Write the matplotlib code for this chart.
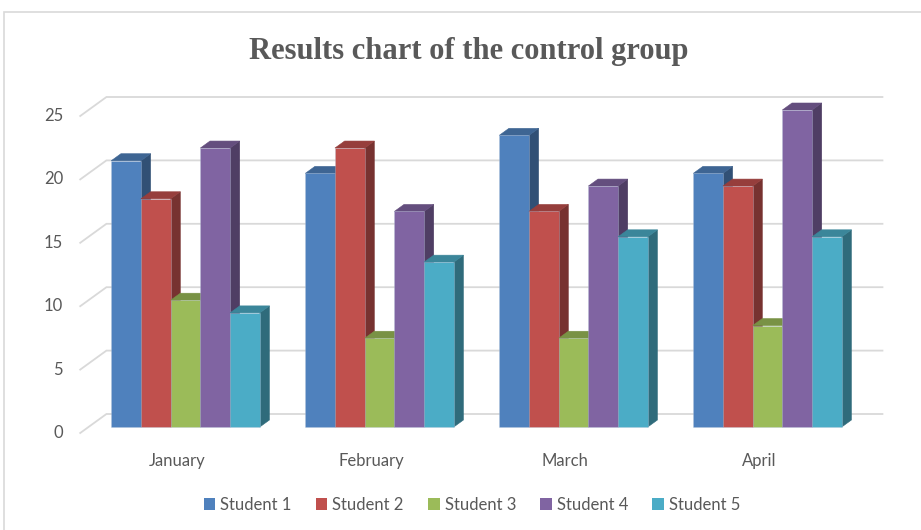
import matplotlib
matplotlib.use("Agg")
import matplotlib.pyplot as plt
from matplotlib.patches import Polygon, Rectangle, Patch
import numpy as np

# ---------------- data ----------------
months = ["January", "February", "March", "April"]
series_names = ["Student 1", "Student 2", "Student 3", "Student 4", "Student 5"]
student1 = [21, 20, 23, 20]
student2 = [18, 22, 17, 19]
student3 = [10, 7, 7, 8]
student4 = [22, 17, 19, 25]
student5 = [9, 13, 15, 15]
yticks = [0, 5, 10, 15, 20, 25]

series = [student1, student2, student3, student4, student5]
colors = ["#4F81BD", "#C0504D", "#9BBB59", "#8064A2", "#4BACC6"]

# ---------------- geometry (pixel based layout) ----------------
W, H = 921, 530
PX_CAT = 194.0      # pixels per category
PX_VAL = 12.68      # pixels per value unit
X0 = 185.5          # pixel x of first category centre
Y0 = 427.0          # pixel y of value 0 (bar front plane)
KX = 1.38 / PX_CAT  # x shift per depth pixel (data units)
KV = 1.0 / PX_VAL   # y shift per depth pixel (data units)
BAR_W = 29.7 / PX_CAT
BAR_D = 7.0
WALL_BACK = 13.0
WALL_FRONT = -6.0


def proj(x, v, d):
    return (x + d * KX, v + d * KV)


def shade(c, f):
    r, g, b = matplotlib.colors.to_rgb(c)
    return (r * f, g * f, b * f)


fig = plt.figure(figsize=(W / 100, H / 100), dpi=100)
ax = fig.add_axes([0, 0, 1, 1])
ax.set_xlim(-X0 / PX_CAT, (W - X0) / PX_CAT)
ax.set_ylim((Y0 - H) / PX_VAL, Y0 / PX_VAL)
ax.axis("off")

# chart border
fig.patches.append(Rectangle((4 / W, -0.1), 1.2, 1 - 12 / H + 0.1,
                             transform=fig.transFigure, fill=False,
                             edgecolor="#d9d9d9", linewidth=1.2))

# gridlines: left side wall + back wall
xl, xr = -0.5, len(months) - 0.5
for v in yticks:
    p1 = proj(xl, v, WALL_FRONT)
    p2 = proj(xl, v, WALL_BACK)
    p3 = proj(xr, v, WALL_BACK)
    ax.plot([p1[0], p2[0], p3[0]], [p1[1], p2[1], p3[1]],
            color="#d9d9d9", linewidth=1.3, zorder=1, solid_joinstyle="miter")
    # tick label
    ax.text(p1[0] - 17 / PX_CAT, p1[1], str(v), ha="right", va="center",
            fontsize=12, color="#595959", family="Lato")

# bars
z = 2
for i in range(len(months)):
    for j, vals in enumerate(series):
        h = vals[i]
        x1 = i - 2.5 * BAR_W + j * BAR_W
        x2 = x1 + BAR_W
        c = colors[j]
        side = [proj(x2, 0, 0), proj(x2, 0, BAR_D), proj(x2, h, BAR_D), proj(x2, h, 0)]
        top = [proj(x1, h, 0), proj(x2, h, 0), proj(x2, h, BAR_D), proj(x1, h, BAR_D)]
        ax.add_patch(Polygon(side, closed=True, facecolor=shade(c, 0.62),
                             edgecolor=shade(c, 0.62), linewidth=0.4, zorder=z))
        ax.add_patch(Polygon(top, closed=True, facecolor=shade(c, 0.78),
                             edgecolor=shade(c, 0.78), linewidth=0.4, zorder=z + 1))
        ax.add_patch(Rectangle((x1, 0), BAR_W, h, facecolor=c,
                               edgecolor=(0.72, 0.78, 0.86, 0.45), linewidth=0.5, zorder=z + 2))
        z += 3

# category labels
for i, m in enumerate(months):
    p = proj(i, -1.6, WALL_FRONT)
    ax.text(p[0], p[1], m, ha="center", va="top", fontsize=12,
            color="#595959", family="Lato")

# title
fig.text(469 / W, 1 - 51 / H, "Results chart of the control group",
         ha="center", va="center", fontsize=22, fontweight="bold",
         color="#595959", family="Liberation Serif")

# legend
handles = [Patch(facecolor=c, edgecolor="none") for c in colors]
fig.legend(handles, series_names, loc="center", bbox_to_anchor=(472 / W, 1 - 505 / H),
           ncol=5, frameon=False, handlelength=0.7, handleheight=0.7,
           handletextpad=0.3, columnspacing=1.45,
           prop={"family": "Lato", "size": 12}, labelcolor="#595959")

fig.savefig("out.png", dpi=100, facecolor="white")
